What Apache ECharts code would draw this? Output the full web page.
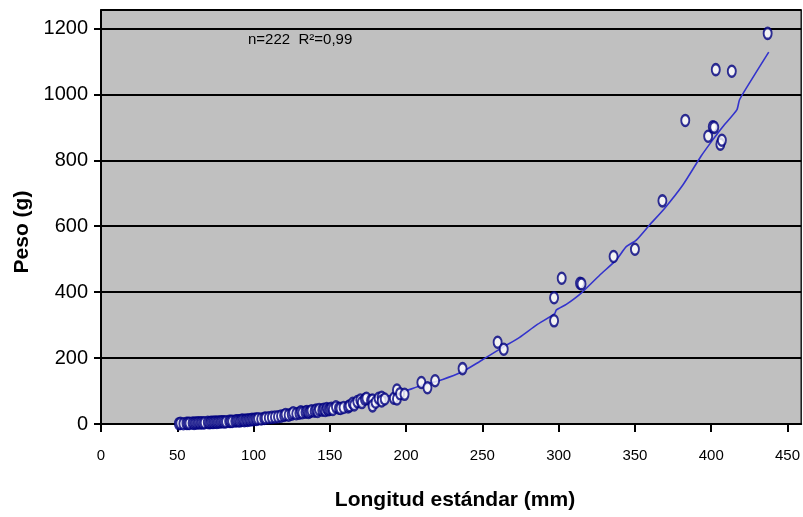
<!DOCTYPE html>
<html>
<head>
<meta charset="utf-8">
<script src="https://cdn.jsdelivr.net/npm/echarts@6/dist/echarts.min.js"></script>
<style>
  html, body { margin: 0; padding: 0; background: #fff; }
  #chart { width: 803px; height: 517px; }
</style>
</head>
<body>
<div id="chart"></div>
<script>
// longitud (mm), peso (g)
var longitud = [51, 52, 54, 56, 57, 58, 60, 61, 62, 63, 64, 65, 66, 67, 68, 70, 71, 72, 73, 74,
  75, 76, 77, 78, 79, 80, 81, 82, 84, 85, 86, 88, 89, 90, 91, 92, 93, 94, 95, 96,
  97, 98, 99, 100, 101, 102, 103, 105, 107, 108, 110, 112, 114, 116, 118, 120, 121, 123, 125, 126,
  128, 130, 131, 132, 134, 135, 136, 137, 138, 140, 141, 142, 143, 145, 146, 147, 148, 149, 150, 151,
  152, 154, 156, 157, 159, 162, 163, 165, 166, 168, 170, 171, 173, 174, 177, 178, 178, 180, 182, 184,
  184, 186, 192, 194, 194, 196, 199, 210, 214, 219, 237, 260, 264, 297, 297, 302, 314, 315, 336, 350,
  368, 383, 398, 401, 402, 403, 406, 407, 413.5, 437];
var peso = [1, 2, 1, 2, 2, 2, 3, 2, 3, 3, 4, 3, 4, 3, 4, 5, 4, 5, 5, 5,
  6, 5, 6, 6, 7, 7, 6, 7, 8, 8, 8, 9, 10, 10, 9, 11, 12, 10, 12, 11,
  13, 12, 14, 13, 15, 14, 16, 15, 17, 18, 19, 20, 21, 22, 24, 26, 29, 27, 30, 34,
  31, 33, 37, 34, 36, 38, 35, 37, 40, 39, 42, 38, 44, 42, 45, 41, 47, 43, 45, 48,
  44, 52, 48, 47, 50, 52, 55, 63, 58, 68, 73, 65, 75, 78, 71, 73, 55, 66, 78, 81,
  70, 76, 78, 103, 76, 92, 90, 126, 110, 131, 168, 248, 227, 383, 313, 442, 427, 425, 508, 530,
  677, 921, 873, 902, 900, 1075, 849, 861, 1070, 1185];

// trend line
var curvaX = [50, 60, 70, 80, 90, 100, 110, 120, 130, 140, 150, 160, 170, 180, 190, 198, 211, 224, 237, 248,
  255, 263.5, 274.4, 285.4, 297.4, 298.5, 305, 315, 327, 337.8, 344.3, 350.9, 359.6, 369.4, 381.4, 393.4,
  401, 407.6, 416.8, 418.5, 423, 437.7];
var curvaY = [2, 3, 5, 7, 10, 13, 17, 22, 28, 35, 43, 52, 62, 74, 87, 98, 118, 135, 159, 189,
  209, 233, 263, 300, 335, 346, 363, 398, 452, 498, 538, 558, 604, 654, 725, 813,
  862, 902, 953, 983, 1019, 1128];

var xTicks = [0, 50, 100, 150, 200, 250, 300, 350, 400, 450];
var yTicks = [0, 200, 400, 600, 800, 1000, 1200];

var puntos = [];
for (var i = 0; i < longitud.length; i++) {
  puntos.push([longitud[i], peso[i]]);
}
var curva = [];
for (var j = 0; j < curvaX.length; j++) {
  curva.push([curvaX[j], curvaY[j]]);
}

var fuente = "'Liberation Sans', Arial, sans-serif";

var chart = echarts.init(document.getElementById('chart'));
var option = {
  animation: false,
  backgroundColor: '#fff',
  grid: {
    left: 101, top: 10, right: 1, bottom: 93,
    show: true,
    backgroundColor: '#c0c0c0',
    borderColor: '#1a1a1a',
    borderWidth: 1.5
  },
  xAxis: {
    type: 'value',
    min: 0, max: 459, interval: 50,
    axisLine: { show: true, onZero: false, lineStyle: { color: '#000', width: 2 } },
    axisTick: { show: true, inside: false, length: 8, lineStyle: { color: '#000', width: 2 } },
    axisLabel: {
      margin: 24, color: '#000', fontSize: 15, fontFamily: fuente, showMaxLabel: false,
      formatter: function (v) { return xTicks.indexOf(v) >= 0 ? String(v) : ''; }
    },
    splitLine: { show: false }
  },
  yAxis: {
    type: 'value',
    min: 0, max: 1256, interval: 200,
    axisLine: { show: true, lineStyle: { color: '#000', width: 2 } },
    axisTick: { show: true, inside: false, length: 7, lineStyle: { color: '#000', width: 2 } },
    axisLabel: {
      margin: 13, color: '#000', fontSize: 20, fontFamily: fuente, showMaxLabel: false,
      formatter: function (v) { return yTicks.indexOf(v) >= 0 ? String(v) : ''; }
    },
    splitLine: { show: true, lineStyle: { color: '#000', width: 2 } }
  },
  graphic: [
    {
      type: 'text', left: 248, top: 32,
      style: { text: 'n=222  R²=0,99', fontSize: 15, fontFamily: fuente, fill: '#000' }
    },
    {
      type: 'text', x: 22, y: 232, rotation: Math.PI / 2,
      style: {
        text: 'Peso (g)', fontSize: 21, fontWeight: 'bold', fontFamily: fuente, fill: '#000',
        textAlign: 'center', textVerticalAlign: 'middle'
      }
    },
    {
      type: 'text', x: 455, y: 500,
      style: {
        text: 'Longitud estándar (mm)', fontSize: 21, fontWeight: 'bold', fontFamily: fuente, fill: '#000',
        textAlign: 'center', textVerticalAlign: 'middle'
      }
    }
  ],
  series: [
    {
      type: 'line',
      data: curva,
      showSymbol: false,
      smooth: 0.2,
      lineStyle: { color: '#3333cc', width: 1.6 },
      z: 2
    },
    {
      type: 'scatter',
      data: puntos,
      symbol: 'circle',
      symbolSize: [8, 11],
      itemStyle: { color: '#fff', borderColor: '#000080', borderWidth: 2.2 },
      z: 3
    }
  ]
};
chart.setOption(option);
</script>
</body>
</html>
